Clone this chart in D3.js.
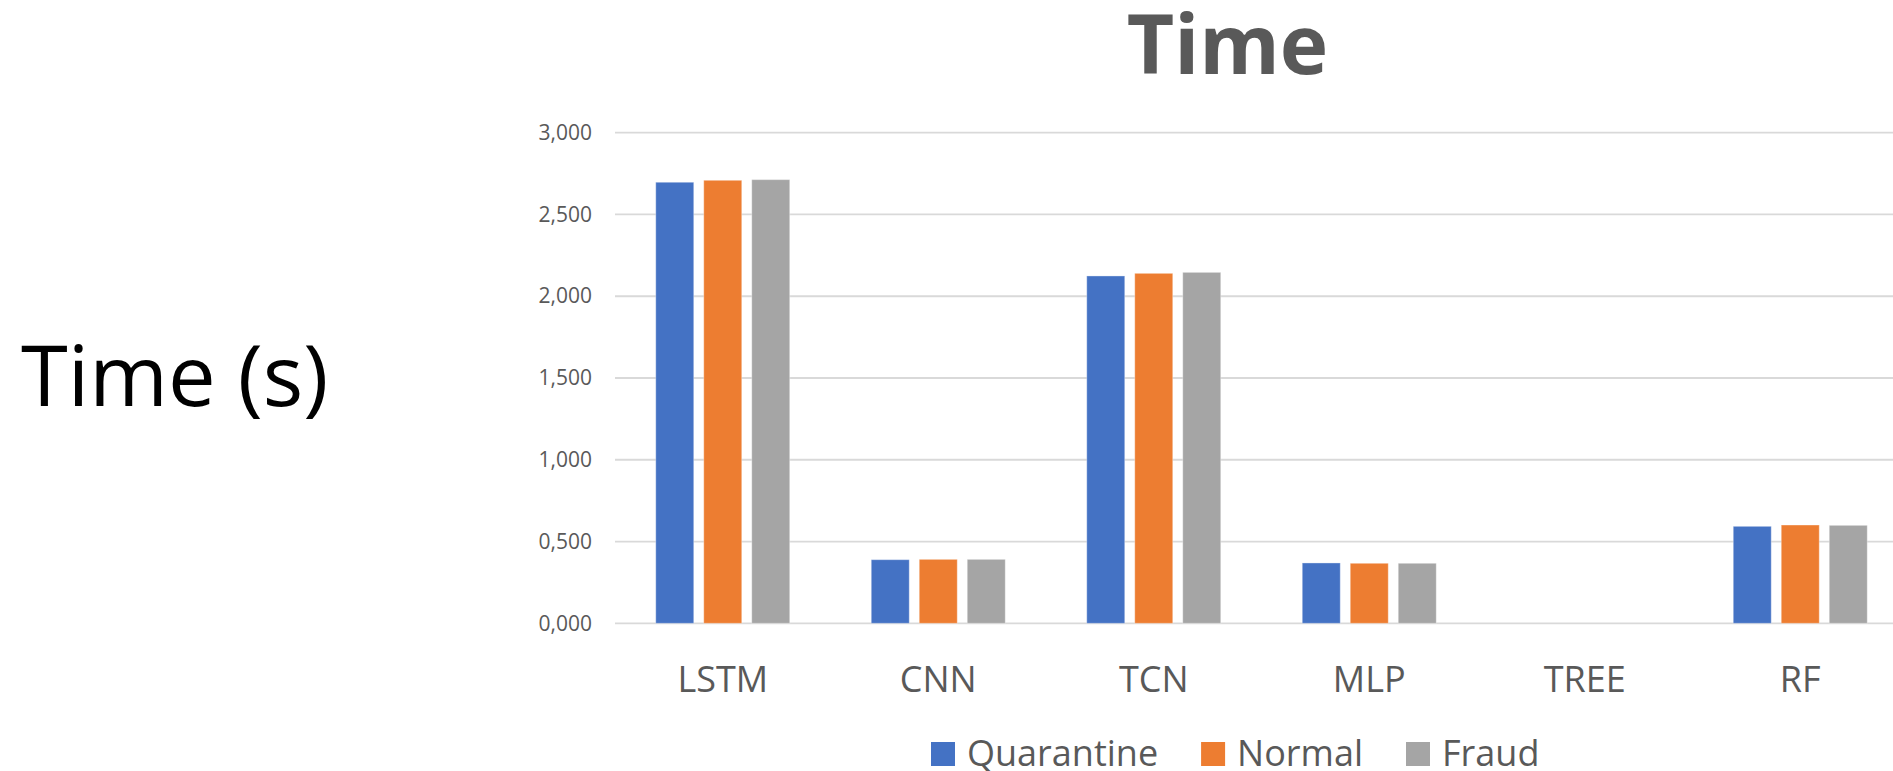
<!DOCTYPE html>
<html>
<head>
<meta charset="utf-8">
<script src="https://cdn.jsdelivr.net/npm/d3@7"></script>
<style>
  html, body { margin: 0; padding: 0; background: #fff; }
  svg { display: block; }
  text { font-family: "Open Sans", "Noto Sans", sans-serif; }
</style>
</head>
<body>
<svg id="chart" width="1893" height="771"></svg>
<script>
// Training time per model and scenario (seconds)
const categories = ["LSTM", "CNN", "TCN", "MLP", "TREE", "RF"];
const seriesNames = ["Quarantine", "Normal", "Fraud"];
const quarantine = [2.697, 0.389, 2.124, 0.369, 0, 0.593];
const normal     = [2.709, 0.391, 2.140, 0.367, 0, 0.601];
const fraud      = [2.713, 0.391, 2.146, 0.367, 0, 0.599];
const seriesValues = [quarantine, normal, fraud];
const yTicks = [0, 0.5, 1, 1.5, 2, 2.5, 3];
const colors = ["#4472C4", "#ED7D31", "#A5A5A5"];

const svg = d3.select("#chart");

// Plot area
const plotLeft = 615, plotRight = 1908, plotTop = 132.7, plotBottom = 623.3;

const x0 = d3.scaleBand().domain(categories).range([plotLeft, plotRight]).padding(0);
const x1 = d3.scaleBand().domain(seriesNames)
  .range([0, x0.bandwidth()])
  .paddingInner(0.2083).paddingOuter(0.849);
const y = d3.scaleLinear().domain([0, 3]).range([plotBottom, plotTop]);

const locale = d3.formatLocale({ decimal: ",", thousands: ".", grouping: [3], currency: ["", ""] });
const fmt = locale.format(".3f");

// Horizontal gridlines
svg.append("g")
  .selectAll("line")
  .data(yTicks)
  .join("line")
  .attr("x1", plotLeft).attr("x2", plotRight)
  .attr("y1", d => y(d)).attr("y2", d => y(d))
  .attr("stroke", "#d9d9d9")
  .attr("stroke-width", 1.8);

// Y axis labels
const yAxis = d3.axisLeft(y).tickValues(yTicks).tickFormat(fmt).tickSize(0).tickPadding(23);
const gy = svg.append("g").attr("transform", `translate(${plotLeft},0)`).call(yAxis);
gy.select(".domain").remove();
gy.selectAll("text")
  .attr("fill", "#595959")
  .style("font-size", "21px")
  .style("font-family", "'Open Sans', sans-serif");

// Bars
const table = categories.map((c, i) => ({
  category: c,
  values: seriesNames.map((s, j) => ({ series: s, value: seriesValues[j][i], color: colors[j] }))
}));

svg.append("g")
  .selectAll("g")
  .data(table)
  .join("g")
  .attr("transform", d => `translate(${x0(d.category)},0)`)
  .selectAll("rect")
  .data(d => d.values)
  .join("rect")
  .attr("x", d => x1(d.series))
  .attr("width", x1.bandwidth())
  .attr("y", d => y(d.value))
  .attr("height", d => y(0) - y(d.value))
  .attr("fill", d => d.color)
  .attr("stroke", "#ffffff")
  .attr("stroke-opacity", 0.35)
  .attr("stroke-width", 1);

// X axis labels
const xAxis = d3.axisBottom(x0).tickSize(0).tickPadding(0);
const gx = svg.append("g").attr("transform", `translate(0,${plotBottom})`).call(xAxis);
gx.select(".domain").remove();
gx.selectAll("text")
  .attr("dy", null)
  .attr("y", 68.4)
  .attr("fill", "#595959")
  .style("font-size", "36px")
  .style("font-family", "'Open Sans', sans-serif");

// Title
svg.append("text")
  .attr("x", 1227.5).attr("y", 74)
  .attr("text-anchor", "middle")
  .attr("fill", "#595959")
  .style("font-size", "82px")
  .style("font-weight", "bold")
  .text("Time");

// Y axis title
svg.append("text")
  .attr("x", 21).attr("y", 406)
  .attr("fill", "#000")
  .style("font-size", "85px")
  .text("Time (s)");

// Legend
const legend = svg.append("g");
let lx = 931;
seriesNames.forEach((name, i) => {
  legend.append("rect")
    .attr("x", lx).attr("y", 742)
    .attr("width", 24).attr("height", 24)
    .attr("fill", colors[i]);
  const t = legend.append("text")
    .attr("x", lx + 36).attr("y", 765.7)
    .attr("fill", "#595959")
    .style("font-size", "36px")
    .text(name);
  lx += 36 + t.node().getComputedTextLength() + 43;
});
</script>
</body>
</html>
